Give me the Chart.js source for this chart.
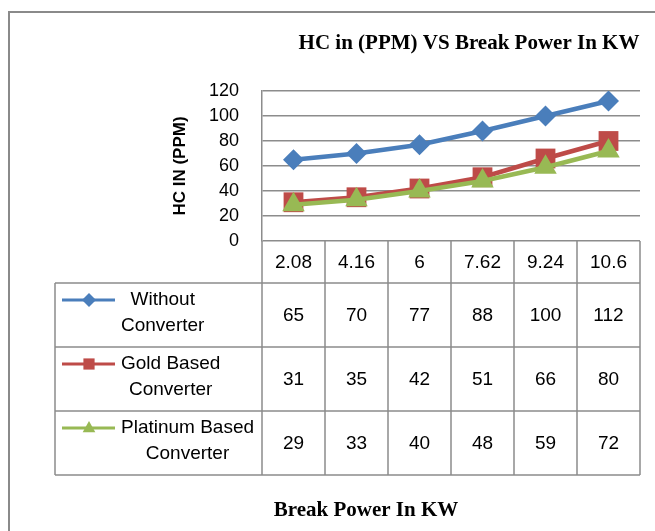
<!DOCTYPE html>
<html>
<head>
<meta charset="utf-8">
<script src="https://cdn.jsdelivr.net/npm/chart.js@4.4.1/dist/chart.umd.min.js"></script>
<style>
  body { margin: 0; background: #fff; }
  canvas { display: block; }
</style>
</head>
<body>
<canvas id="myChart" width="655" height="531"></canvas>
<script>
const categories = ['2.08', '4.16', '6', '7.62', '9.24', '10.6'];
const withoutConverter = [65, 70, 77, 88, 100, 112];
const goldConverter = [31, 35, 42, 51, 66, 80];
const platinumConverter = [29, 33, 40, 48, 59, 72];
const seriesNames = [['Without', 'Converter'], ['Gold Based', 'Converter'], ['Platinum Based', 'Converter']];
const seriesColors = ['#4a7ebb', '#be4b48', '#98b954'];
const yMin = 0, yMax = 120, yStep = 20;

const chartTitle = 'HC in (PPM) VS Break Power In KW';
const xTitle = 'Break Power In KW';
const yTitle = 'HC IN (PPM)';

const sansFont = "'Liberation Sans', Arial, sans-serif";
const serifFont = "'Liberation Serif', 'Times New Roman', serif";

function drawMarker(ctx, style, x, y, r, color) {
    ctx.save();
    ctx.fillStyle = color;
    ctx.beginPath();
    if (style == 'rectRot') {
        ctx.moveTo(x, y - r); ctx.lineTo(x + r, y); ctx.lineTo(x, y + r); ctx.lineTo(x - r, y);
    } else if (style == 'rect') {
        ctx.rect(x - r * 0.8, y - r * 0.8, r * 1.6, r * 1.6);
    } else {
        ctx.moveTo(x, y - r); ctx.lineTo(x + r * 0.9, y + r * 0.6); ctx.lineTo(x - r * 0.9, y + r * 0.6);
    }
    ctx.closePath();
    ctx.fill();
    ctx.restore();
}

const dataTablePlugin = {
    id: 'dataTable',
    afterDraw(chart) {
        const ctx = chart.ctx;
        const xs = chart.scales.x;
        const area = chart.chartArea;
        const colW = xs.getPixelForValue(1) - xs.getPixelForValue(0);
        const right = xs.getPixelForValue(categories.length - 1) + colW / 2;
        const top = area.bottom;
        const headH = 42, rowH = 64, legLeft = 55;
        const rows = [withoutConverter, goldConverter, platinumConverter];
        const markers = ['rectRot', 'rect', 'triangle'];

        ctx.save();
        // outer frame
        ctx.strokeStyle = '#8a8a8a';
        ctx.lineWidth = 2;
        ctx.beginPath();
        ctx.moveTo(9, 531); ctx.lineTo(9, 12); ctx.lineTo(655, 12);
        ctx.stroke();

        // table lines
        ctx.strokeStyle = '#8c8c8c';
        ctx.lineWidth = 1.5;
        ctx.beginPath();
        for (let i = 0; i <= categories.length; i++) {
            const x = xs.getPixelForValue(0) - colW / 2 + i * colW;
            ctx.moveTo(x, top); ctx.lineTo(x, top + headH + 3 * rowH);
        }
        ctx.moveTo(legLeft, top + headH); ctx.lineTo(legLeft, top + headH + 3 * rowH);
        for (let r = 0; r <= 3; r++) {
            const y = top + headH + r * rowH;
            ctx.moveTo(legLeft, y); ctx.lineTo(right, y);
        }
        ctx.stroke();

        ctx.fillStyle = '#000';
        ctx.textAlign = 'center';
        ctx.textBaseline = 'middle';
        ctx.font = '19px ' + sansFont;
        categories.forEach((c, i) => {
            ctx.fillText(c, xs.getPixelForValue(i), top + headH / 2 + 1);
        });
        rows.forEach((vals, r) => {
            const yMid = top + headH + r * rowH + rowH / 2;
            vals.forEach((v, i) => ctx.fillText(String(v), xs.getPixelForValue(i), yMid + 1));
            // legend key
            const y1 = top + headH + r * rowH + 17;
            ctx.strokeStyle = seriesColors[r];
            ctx.lineWidth = 3;
            ctx.beginPath();
            ctx.moveTo(62, y1); ctx.lineTo(115, y1);
            ctx.stroke();
            drawMarker(ctx, markers[r], 89, y1, 7, seriesColors[r]);
            const names = seriesNames[r];
            const w = Math.max(...names.map(n => ctx.measureText(n).width));
            const cx = 121 + w / 2;
            ctx.fillText(names[0], cx, y1);
            ctx.fillText(names[1], cx, y1 + 26);
        });

        // titles
        ctx.font = 'bold 21px ' + serifFont;
        ctx.fillText(chartTitle, 469, 44);
        ctx.fillText(xTitle, 366, 511);
        ctx.restore();
    }
};

new Chart(document.getElementById('myChart'), {
    type: 'line',
    data: {
        labels: categories,
        datasets: [
            { label: 'Without Converter', data: withoutConverter, order: 2, borderColor: seriesColors[0], backgroundColor: seriesColors[0], pointStyle: 'rectRot', pointRadius: 10.5, pointHoverRadius: 10.5, borderWidth: 4.5, pointBorderWidth: 0 },
            { label: 'Gold Based Converter', data: goldConverter, order: 1, borderColor: seriesColors[1], backgroundColor: seriesColors[1], pointStyle: 'rect', pointRadius: 14, pointHoverRadius: 14, borderWidth: 4.5, pointBorderWidth: 0 },
            { label: 'Platinum Based Converter', data: platinumConverter, order: 0, borderColor: seriesColors[2], backgroundColor: seriesColors[2], pointStyle: 'triangle', pointRadius: 13, pointHoverRadius: 13, borderWidth: 4.5, pointBorderWidth: 0 }
        ]
    },
    options: {
        responsive: false,
        animation: false,
        devicePixelRatio: 1,
        layout: { padding: { left: 170, right: 15, top: 91, bottom: 290 } },
        plugins: { legend: { display: false }, tooltip: { enabled: false } },
        scales: {
            x: { display: false, offset: true },
            y: {
                min: yMin, max: yMax,
                afterFit(scale) { scale.width = 92; },
                ticks: { stepSize: yStep, padding: 23, color: '#000', font: { family: sansFont, size: 18 } },
                grid: { color: '#8c8c8c', lineWidth: 1.5, drawTicks: false },
                border: { display: true, color: '#8c8c8c', width: 1.5 },
                title: { display: true, text: yTitle, color: '#000', padding: 0, font: { family: sansFont, size: 17, weight: 'bold' } }
            }
        }
    },
    plugins: [dataTablePlugin]
});
</script>
</body>
</html>
